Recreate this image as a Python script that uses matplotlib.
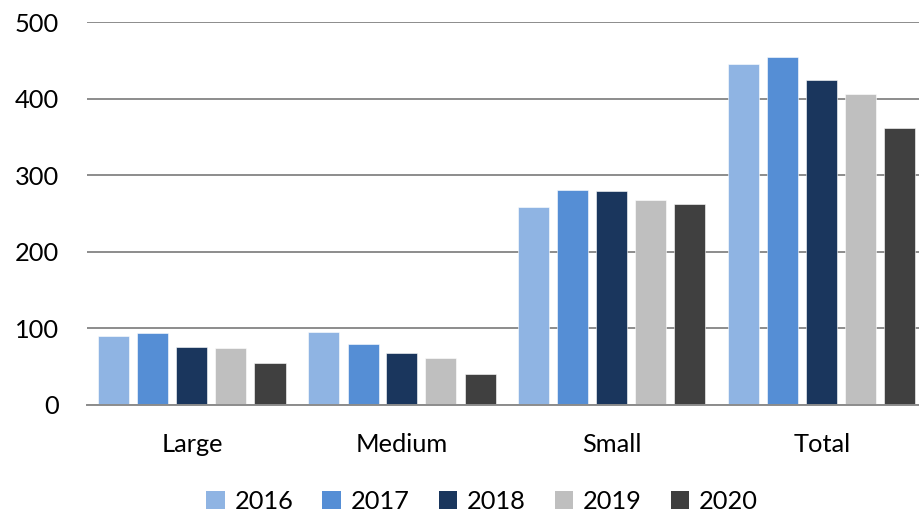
import matplotlib
matplotlib.use("Agg")
import matplotlib.pyplot as plt
import numpy as np
from matplotlib.patches import Patch

categories = ["Large", "Medium", "Small", "Total"]
years = ["2016", "2017", "2018", "2019", "2020"]
v2016 = [90, 96, 259, 446]
v2017 = [94, 80, 281, 455]
v2018 = [76, 68, 279, 425]
v2019 = [74, 62, 268, 406]
v2020 = [55, 41, 262, 362]
yticks = [0, 100, 200, 300, 400, 500]

series = [v2016, v2017, v2018, v2019, v2020]
colors = ["#8FB4E3", "#558ED5", "#1A365D", "#BFBFBF", "#404040"]

plt.rcParams["font.family"] = ["Lato", "DejaVu Sans"]
FS = 18.3

fig = plt.figure(figsize=(9.2, 5.14), dpi=100)
W, H = 920, 514
ax = fig.add_axes([87 / W, 109 / H, (927 - 87) / W, (405 - 22.3) / H])

x = np.arange(len(categories))
step = 39 / 210
bw = 31 / 210
for i, (vals, c) in enumerate(zip(series, colors)):
    ax.bar(x + (i - 2) * step, vals, width=bw, color=c, zorder=3,
           edgecolor="white", linewidth=0.4)

ax.set_xlim(-0.5, len(categories) - 0.5)
ax.set_ylim(0, 500)
ax.set_yticks(yticks)
ax.set_yticklabels([str(t) for t in yticks], fontsize=FS)
ax.set_xticks(x)
ax.set_xticklabels(categories, fontsize=FS)
ax.tick_params(axis="y", length=0, pad=20)
ax.tick_params(axis="x", length=0, pad=20)
ax.grid(axis="y", color="#8C8C8C", linewidth=1.4, zorder=0)
for s in ["top", "right", "left"]:
    ax.spines[s].set_visible(False)
ax.spines["bottom"].set_color("#8C8C8C")
ax.spines["bottom"].set_linewidth(1.4)
ax.spines["bottom"].set_zorder(4)

handles = [Patch(facecolor=c, edgecolor="none") for c in colors]
fig.legend(handles, years, loc="center", bbox_to_anchor=(482 / W, 0.024),
           ncol=5, frameon=False, fontsize=FS, handlelength=0.72,
           handleheight=0.72, handletextpad=0.38, columnspacing=1.15,
           borderpad=0, borderaxespad=0)

fig.savefig("out.png", dpi=100)
